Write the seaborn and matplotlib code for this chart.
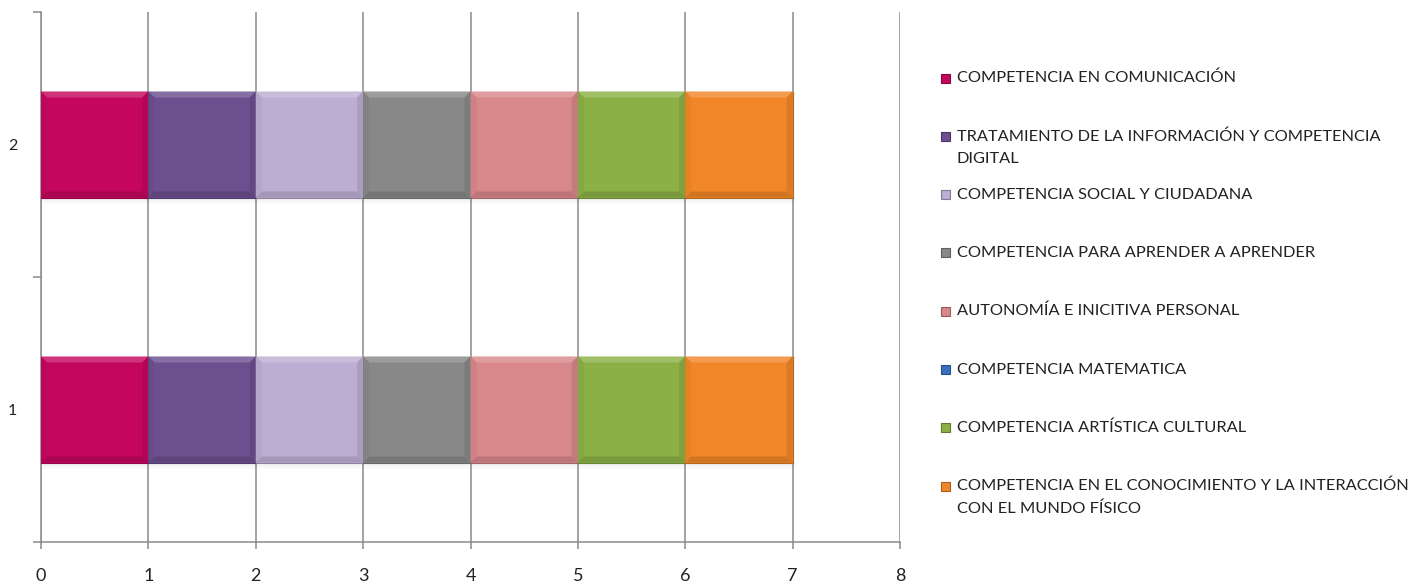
import numpy as np
import pandas as pd
import matplotlib
matplotlib.use("Agg")
import matplotlib.pyplot as plt
from matplotlib.patches import Rectangle, Polygon
from matplotlib.colors import to_rgb
import seaborn as sns

# ---- data -------------------------------------------------------------
categories = ["2", "1"]          # top to bottom
series = [
    "COMPETENCIA EN COMUNICACIÓN",
    "TRATAMIENTO DE LA INFORMACIÓN Y COMPETENCIA\nDIGITAL",
    "COMPETENCIA SOCIAL Y CIUDADANA",
    "COMPETENCIA PARA APRENDER A APRENDER",
    "AUTONOMÍA E INICITIVA PERSONAL",
    "COMPETENCIA MATEMATICA",
    "COMPETENCIA ARTÍSTICA CULTURAL",
    "COMPETENCIA EN EL CONOCIMIENTO Y LA INTERACCIÓN\nCON EL MUNDO FÍSICO",
]
values_cat1 = [1, 1, 1, 1, 1, 0, 1, 1]
values_cat2 = [1, 1, 1, 1, 1, 0, 1, 1]
x_ticks = [0, 1, 2, 3, 4, 5, 6, 7, 8]

colors = ["#c4065e", "#6b4f8f", "#bcadd3", "#888888",
          "#d8878b", "#3b6fc1", "#8bb045", "#f08628"]


def mix(c, other, t):
    a, b = np.array(to_rgb(c)), np.array(to_rgb(other))
    return tuple(a * (1 - t) + b * t)


# ---- long table with stacking offsets ---------------------------------
rows = []
for cat, vals in (("1", values_cat1), ("2", values_cat2)):
    start = 0.0
    for name, v in zip(series, vals):
        rows.append({"categoria": cat, "serie": name, "valor": v, "inicio": start})
        start += v
df = pd.DataFrame(rows)

# ---- figure -----------------------------------------------------------
W, H = 1416, 587
sns.set_theme(style="white")
plt.rcParams["font.family"] = ["Lato", "DejaVu Sans"]

fig = plt.figure(figsize=(W / 100, H / 100), dpi=100)
ax_left, ax_right, ax_top, ax_bottom = 41, 900, 12, 542
ax = fig.add_axes([ax_left / W, 1 - ax_bottom / H,
                   (ax_right - ax_left) / W, (ax_bottom - ax_top) / H])

for name, col in zip(series, colors):
    sub = df[df["serie"] == name].set_index("categoria").loc[categories].reset_index()
    sns.barplot(data=sub, x="valor", y="categoria", order=categories,
                orient="y", width=0.4, left=sub["inicio"].to_numpy(),
                color=col, saturation=1, edgecolor=mix(col, "black", 0.25),
                linewidth=0.8, ax=ax, zorder=3)

ax.set_xlim(0, 8)
ax.set_ylim(1.5, -0.5)

# bevelled look on every drawn bar: light top rim, dark bottom rim, soft shadow
px_x = (ax_right - ax_left) / 8.0       # pixels per x unit
px_y = (ax_bottom - ax_top) / 2.0       # pixels per y unit
bx, by = 6 / px_x, 6 / px_y
for bar in list(ax.patches):
    w = bar.get_width()
    if w <= 0:
        continue
    x0, y0 = bar.get_x(), bar.get_y()
    x1, y1 = x0 + w, y0 + bar.get_height()   # y0 is the upper edge (inverted axis)
    base = bar.get_facecolor()[:3]
    top = Polygon([(x0, y0), (x1, y0), (x1 - bx, y0 + by), (x0 + bx, y0 + by)],
                  closed=True, facecolor=mix(base, "white", 0.18), edgecolor="none", zorder=4)
    bot = Polygon([(x0, y1), (x1, y1), (x1 - bx, y1 - by), (x0 + bx, y1 - by)],
                  closed=True, facecolor=mix(base, "black", 0.13), edgecolor="none", zorder=4)
    lft = Polygon([(x0, y0), (x0 + bx, y0 + by), (x0 + bx, y1 - by), (x0, y1)],
                  closed=True, facecolor=mix(base, "black", 0.04), edgecolor="none", zorder=4)
    rgt = Polygon([(x1, y0), (x1 - bx, y0 + by), (x1 - bx, y1 - by), (x1, y1)],
                  closed=True, facecolor=mix(base, "black", 0.09), edgecolor="none", zorder=4)
    for p in (top, bot, lft, rgt):
        ax.add_patch(p)
    for k in range(4):
        ax.add_patch(Rectangle((x0 + 0.02, y1 + k * 1.5 / px_y), w, 1.5 / px_y,
                               facecolor=(0, 0, 0, 0.06 - k * 0.013),
                               edgecolor="none", zorder=2.5))

ax.set_xticks(x_ticks)
ax.set_xticklabels([str(t) for t in x_ticks], fontsize=13, color="#222222")
ax.set_yticks([0, 1])
ax.set_yticklabels(categories, fontsize=11.5, color="#222222")
ax.set_yticks([-0.5, 0.5, 1.5], minor=True)
ax.set_xlabel("")
ax.set_ylabel("")

ax.grid(axis="x", color="#8a8a8a", linewidth=1.1, zorder=0)
ax.grid(axis="y", visible=False)
ax.set_axisbelow(True)

for side in ("top", "right"):
    ax.spines[side].set_visible(False)
for side in ("left", "bottom"):
    ax.spines[side].set_color("#8a8a8a")
    ax.spines[side].set_linewidth(1.1)

ax.tick_params(axis="x", which="major", direction="out", length=5, width=1.1,
               color="#8a8a8a", pad=14, bottom=True)
ax.tick_params(axis="y", which="major", length=0, pad=17, left=True)
ax.tick_params(axis="y", which="minor", direction="out", length=6, width=1.1,
               color="#8a8a8a", left=True)

# ---- legend -----------------------------------------------------------
mx, tx = 941, 957
y0, dy = 78, 58.3
msize = 9
for i, (name, col) in enumerate(zip(series, colors)):
    yc = y0 + i * dy
    fig.add_artist(Rectangle((mx / W, 1 - (yc + msize / 2) / H), msize / W, msize / H,
                             transform=fig.transFigure, facecolor=col,
                             edgecolor=mix(col, "black", 0.3), linewidth=0.8))
    for j, line in enumerate(name.split("\n")):
        fig.text(tx / W, 1 - (yc + j * 23) / H, line, fontsize=11.8,
                 color="#222222", va="center", ha="left")

fig.savefig("out.png", dpi=100)
